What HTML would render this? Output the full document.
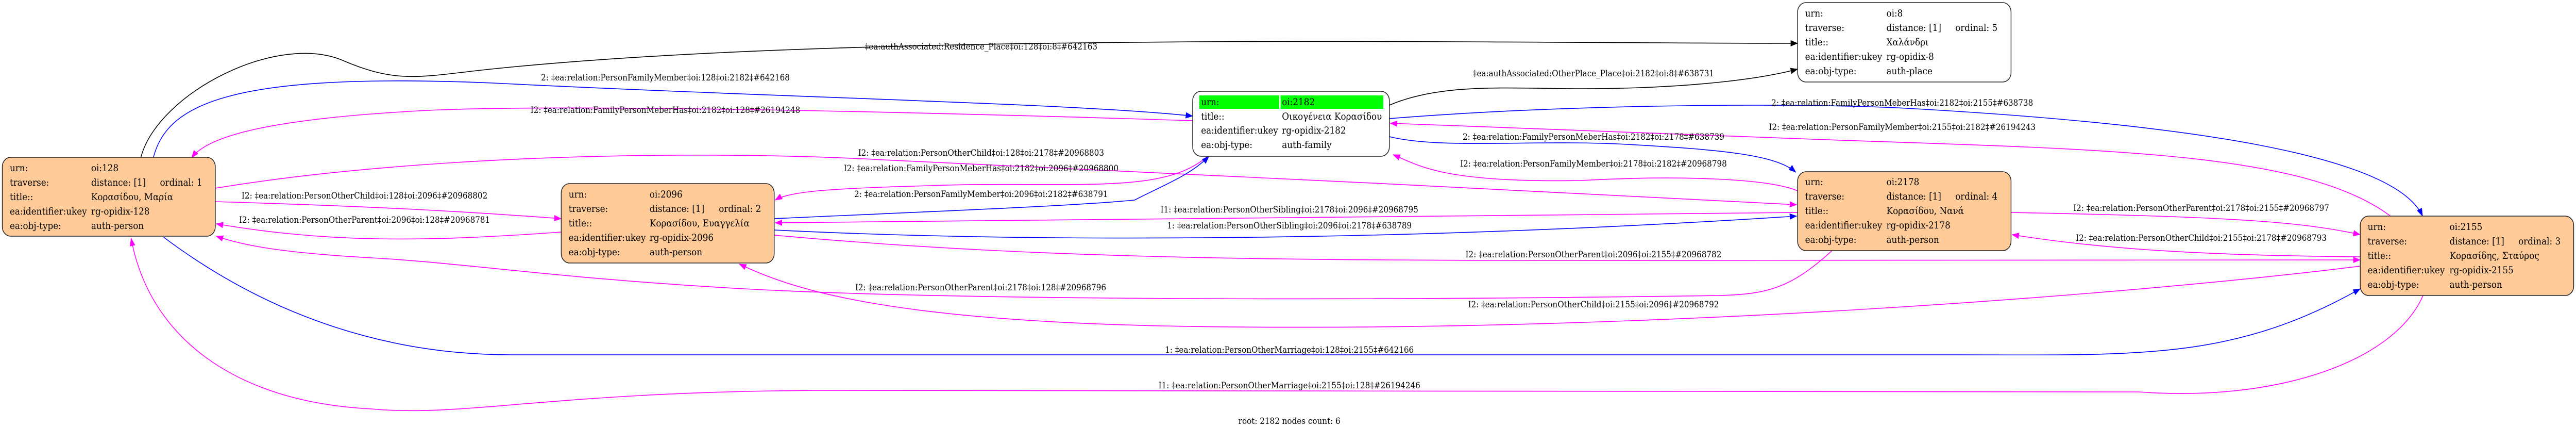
<!DOCTYPE html>
<html><head><meta charset="utf-8"><style>
html,body{margin:0;padding:0;background:#fff;width:100%;height:100%;overflow:hidden;}
svg{display:block;position:absolute;left:0;top:0;width:100%;height:100%;}
.n{font-family:"DejaVu Serif","Liberation Serif",serif;font-size:18.6px;fill:#000;}
.l{font-family:"DejaVu Serif","Liberation Serif",serif;font-size:16.8px;fill:#000;text-anchor:middle;}
.b{fill:none;stroke:#0000ff;stroke-width:1.6;}
.m{fill:none;stroke:#ff00ff;stroke-width:1.6;}
.k{fill:none;stroke:#000;stroke-width:1.6;}
.box{fill:#fecb98;stroke:#222;stroke-width:1.6;}
.wbox{fill:#fff;stroke:#222;stroke-width:1.6;}
</style></head><body>
<svg viewBox="0 0 5540 828" preserveAspectRatio="none" xmlns="http://www.w3.org/2000/svg" overflow="hidden">
<defs>
<marker id="ab" markerUnits="userSpaceOnUse" markerWidth="16" markerHeight="12" refX="15" refY="6" orient="auto"><path d="M0,0 L16,6 L0,12 z" fill="#0000ff"/></marker>
<marker id="am" markerUnits="userSpaceOnUse" markerWidth="16" markerHeight="12" refX="15" refY="6" orient="auto"><path d="M0,0 L16,6 L0,12 z" fill="#ff00ff"/></marker>
<marker id="ak" markerUnits="userSpaceOnUse" markerWidth="16" markerHeight="12" refX="15" refY="6" orient="auto"><path d="M0,0 L16,6 L0,12 z" fill="#000"/></marker>
</defs>

<path class="k" d="M303,305 C340,180 600,60 742,119 C850,160 900,150 1025,137 C1800,60 3200,84 3866,84" marker-end="url(#ak)"/>
<path class="b" d="M330,305 C360,200 500,140 1060,161 C1700,190 2300,200 2565,225" marker-end="url(#ab)"/>
<path class="m" d="M2565,234 C2000,218 1200,200 900,215 C600,230 450,260 412,306" marker-end="url(#am)"/>
<path class="k" d="M2988,204 C3100,160 3250,172 3400,172 C3650,172 3800,150 3866,134" marker-end="url(#ak)"/>
<path class="b" d="M2988,230 C3400,200 3900,200 4100,210 C4700,240 5150,300 5210,419" marker-end="url(#ab)"/>
<path class="m" d="M5141,419 C4950,290 4500,290 3900,270 C3400,255 3100,245 2990,239" marker-end="url(#am)"/>
<path class="b" d="M2988,265 C3100,290 3300,270 3500,280 C3700,290 3820,300 3862,334" marker-end="url(#ab)"/>
<path class="m" d="M3866,370 C3800,345 3600,340 3400,350 C3100,355 3050,320 2996,300" marker-end="url(#am)"/>
<path class="m" d="M463,365 C900,300 1500,290 1900,310 C2400,330 3300,370 3864,397" marker-end="url(#am)"/>
<path class="m" d="M2597,303 C2500,380 2300,350 2000,360 C1800,365 1700,370 1667,388" marker-end="url(#am)"/>
<path class="b" d="M1665,424 C2000,410 2300,400 2440,388 C2500,360 2560,340 2600,303" marker-end="url(#ab)"/>
<path class="m" d="M463,391 C800,400 1000,410 1207,424" marker-end="url(#am)"/>
<path class="m" d="M1207,450 C900,470 700,470 465,434" marker-end="url(#am)"/>
<path class="m" d="M3866,412 C3000,420 2000,430 1667,432" marker-end="url(#am)"/>
<path class="b" d="M1665,446 C2200,470 3000,470 3864,419" marker-end="url(#ab)"/>
<path class="m" d="M1665,456 C2200,500 2700,505 3400,505 C4200,505 4800,504 5076,504" marker-end="url(#am)"/>
<path class="m" d="M4325,412 C4800,420 4950,430 5076,455" marker-end="url(#am)"/>
<path class="m" d="M5076,498 C4700,495 4500,480 4327,455" marker-end="url(#am)"/>
<path class="m" d="M3940,486 C3850,560 3800,570 3700,573 C2800,585 2000,580 1600,560 C1200,540 1000,510 800,500 C600,490 520,475 465,458" marker-end="url(#am)"/>
<path class="m" d="M5076,516 C4600,570 3500,650 2500,632 C1900,620 1700,560 1590,512" marker-end="url(#am)"/>
<path class="b" d="M352,460 C500,560 750,688 1100,688 L4200,688 C4600,688 4800,700 5076,560" marker-end="url(#ab)"/>
<path class="m" d="M5211,573 C5150,700 4900,780 4600,760 L1800,757 C1200,757 1000,810 800,793 C500,780 320,650 282,462" marker-end="url(#am)"/>

<text class="l" x="2110" y="96">‡ea:authAssociated:Residence_Place‡oi:128‡oi:8‡#642163</text>
<text class="l" x="1431" y="156">2: ‡ea:relation:PersonFamilyMember‡oi:128‡oi:2182‡#642168</text>
<text class="l" x="1431" y="219">I2: ‡ea:relation:FamilyPersonMeberHas‡oi:2182‡oi:128‡#26194248</text>
<text class="l" x="3427" y="148">‡ea:authAssociated:OtherPlace_Place‡oi:2182‡oi:8‡#638731</text>
<text class="l" x="4091" y="205">2: ‡ea:relation:FamilyPersonMeberHas‡oi:2182‡oi:2155‡#638738</text>
<text class="l" x="4091" y="252">I2: ‡ea:relation:PersonFamilyMember‡oi:2155‡oi:2182‡#26194243</text>
<text class="l" x="3427" y="271">2: ‡ea:relation:FamilyPersonMeberHas‡oi:2182‡oi:2178‡#638739</text>
<text class="l" x="3427" y="323">I2: ‡ea:relation:PersonFamilyMember‡oi:2178‡oi:2182‡#20968798</text>
<text class="l" x="2110" y="302">I2: ‡ea:relation:PersonOtherChild‡oi:128‡oi:2178‡#20968803</text>
<text class="l" x="2110" y="332">I2: ‡ea:relation:FamilyPersonMeberHas‡oi:2182‡oi:2096‡#20968800</text>
<text class="l" x="2110" y="382">2: ‡ea:relation:PersonFamilyMember‡oi:2096‡oi:2182‡#638791</text>
<text class="l" x="784" y="385">I2: ‡ea:relation:PersonOtherChild‡oi:128‡oi:2096‡#20968802</text>
<text class="l" x="784" y="432">I2: ‡ea:relation:PersonOtherParent‡oi:2096‡oi:128‡#20968781</text>
<text class="l" x="2773" y="412">I1: ‡ea:relation:PersonOtherSibling‡oi:2178‡oi:2096‡#20968795</text>
<text class="l" x="2773" y="443">1: ‡ea:relation:PersonOtherSibling‡oi:2096‡oi:2178‡#638789</text>
<text class="l" x="3427" y="499">I2: ‡ea:relation:PersonOtherParent‡oi:2096‡oi:2155‡#20968782</text>
<text class="l" x="4734" y="409">I2: ‡ea:relation:PersonOtherParent‡oi:2178‡oi:2155‡#20968797</text>
<text class="l" x="4734" y="467">I2: ‡ea:relation:PersonOtherChild‡oi:2155‡oi:2178‡#20968793</text>
<text class="l" x="2109" y="563">I2: ‡ea:relation:PersonOtherParent‡oi:2178‡oi:128‡#20968796</text>
<text class="l" x="3427" y="596">I2: ‡ea:relation:PersonOtherChild‡oi:2155‡oi:2096‡#20968792</text>
<text class="l" x="2773" y="684">1: ‡ea:relation:PersonOtherMarriage‡oi:128‡oi:2155‡#642166</text>
<text class="l" x="2773" y="753">I1: ‡ea:relation:PersonOtherMarriage‡oi:2155‡oi:128‡#26194246</text>
<text class="l" x="2773" y="822">root: 2182 nodes count: 6</text>

<rect class="wbox" x="3866" y="5" width="459" height="154" rx="18"/>
<g class="n">
<text x="3882" y="32">urn:</text><text x="4057" y="32">oi:8</text>
<text x="3882" y="60">traverse:</text><text x="4057" y="60">distance: [1]</text><text x="4205" y="60">ordinal: 5</text>
<text x="3882" y="88">title::</text><text x="4057" y="88">Χαλάνδρι</text>
<text x="3882" y="116">ea:identifier:ukey</text><text x="4057" y="116">rg-opidix-8</text>
<text x="3882" y="144">ea:obj-type:</text><text x="4057" y="144">auth-place</text>
</g>

<rect class="wbox" x="2565" y="177" width="423" height="126" rx="18"/>
<rect x="2579" y="185" width="172" height="26" fill="#00ff00"/>
<rect x="2754" y="185" width="221" height="26" fill="#00ff00"/>
<g class="n">
<text x="2583" y="204">urn:</text><text x="2757" y="204">oi:2182</text>
<text x="2583" y="232">title::</text><text x="2757" y="232">Οικογένεια Κορασίδου</text>
<text x="2583" y="259">ea:identifier:ukey</text><text x="2757" y="259">rg-opidix-2182</text>
<text x="2583" y="287">ea:obj-type:</text><text x="2757" y="287">auth-family</text>
</g>

<rect class="box" x="5" y="305" width="458" height="153" rx="18"/>
<g class="n">
<text x="21" y="332">urn:</text><text x="196" y="332">oi:128</text>
<text x="21" y="360">traverse:</text><text x="196" y="360">distance: [1]</text><text x="344" y="360">ordinal: 1</text>
<text x="21" y="388">title::</text><text x="196" y="388">Κορασίδου, Μαρία</text>
<text x="21" y="416">ea:identifier:ukey</text><text x="196" y="416">rg-opidix-128</text>
<text x="21" y="444">ea:obj-type:</text><text x="196" y="444">auth-person</text>
</g>

<rect class="box" x="1207" y="356" width="458" height="154" rx="18"/>
<g class="n">
<text x="1223" y="383">urn:</text><text x="1397" y="383">oi:2096</text>
<text x="1223" y="411">traverse:</text><text x="1397" y="411">distance: [1]</text><text x="1546" y="411">ordinal: 2</text>
<text x="1223" y="439">title::</text><text x="1397" y="439">Κορασίδου, Ευαγγελία</text>
<text x="1223" y="467">ea:identifier:ukey</text><text x="1397" y="467">rg-opidix-2096</text>
<text x="1223" y="495">ea:obj-type:</text><text x="1397" y="495">auth-person</text>
</g>

<rect class="box" x="3866" y="333" width="459" height="153" rx="18"/>
<g class="n">
<text x="3882" y="359">urn:</text><text x="4057" y="359">oi:2178</text>
<text x="3882" y="387">traverse:</text><text x="4057" y="387">distance: [1]</text><text x="4205" y="387">ordinal: 4</text>
<text x="3882" y="415">title::</text><text x="4057" y="415">Κορασίδου, Νανά</text>
<text x="3882" y="443">ea:identifier:ukey</text><text x="4057" y="443">rg-opidix-2178</text>
<text x="3882" y="471">ea:obj-type:</text><text x="4057" y="471">auth-person</text>
</g>

<rect class="box" x="5076" y="419" width="459" height="154" rx="18"/>
<g class="n">
<text x="5092" y="446">urn:</text><text x="5268" y="446">oi:2155</text>
<text x="5092" y="474">traverse:</text><text x="5268" y="474">distance: [1]</text><text x="5416" y="474">ordinal: 3</text>
<text x="5092" y="502">title::</text><text x="5268" y="502">Κορασίδης, Σταύρος</text>
<text x="5092" y="530">ea:identifier:ukey</text><text x="5268" y="530">rg-opidix-2155</text>
<text x="5092" y="558">ea:obj-type:</text><text x="5268" y="558">auth-person</text>
</g>
</svg>
</body></html>
